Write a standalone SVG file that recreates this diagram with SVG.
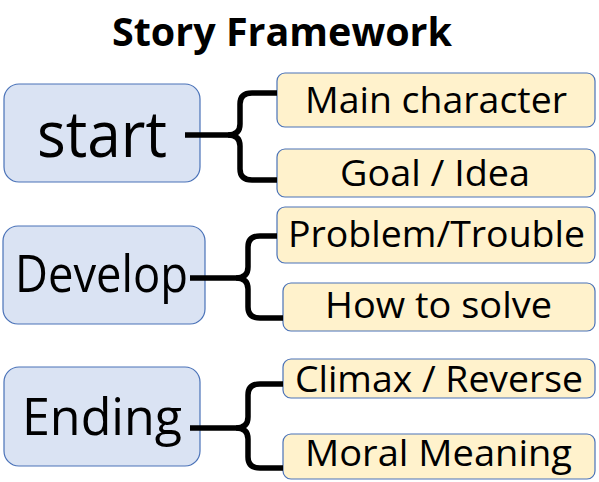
<svg xmlns="http://www.w3.org/2000/svg" width="599" height="482" viewBox="0 0 599 482">
<style>
.main{fill:#dae3f3;stroke:#4a72b8;stroke-width:1.2}
.sub{fill:#fff2cc;stroke:#4a72b8;stroke-width:1.2}
text{font-family:"Open Sans","Noto Sans","DejaVu Sans",sans-serif;fill:#000}
.big{font-size:64px}
.mid{font-size:52px}
.sm{font-size:37px}
.title{font-size:39px;font-weight:bold}
.br{fill:none;stroke:#000;stroke-width:5.5;stroke-linecap:butt;stroke-linejoin:round}
</style>
<rect width="599" height="482" fill="#fff"/>
<text class="title" x="112" y="46" textLength="340" lengthAdjust="spacingAndGlyphs">Story Framework</text>
<g id="start">
<rect class="main" x="4" y="84" width="196" height="98" rx="15"/>
<text class="big" x="37" y="157" textLength="130" lengthAdjust="spacingAndGlyphs">start</text>
</g>
<g id="develop">
<rect class="main" x="3" y="226" width="202" height="98" rx="15"/>
<text class="mid" x="15" y="292" textLength="173" lengthAdjust="spacingAndGlyphs">Develop</text>
</g>
<g id="ending">
<rect class="main" x="4" y="367" width="196" height="99" rx="15"/>
<text class="mid" x="22" y="435" textLength="160" lengthAdjust="spacingAndGlyphs">Ending</text>
</g>
<g id="main-character">
<rect class="sub" x="277" y="73" width="318" height="54" rx="8"/>
<text class="sm" x="305" y="113" textLength="262" lengthAdjust="spacingAndGlyphs">Main character</text>
</g>
<g id="goal-idea">
<rect class="sub" x="277" y="149" width="318" height="48" rx="8"/>
<text class="sm" x="340" y="186" textLength="190" lengthAdjust="spacingAndGlyphs">Goal / Idea</text>
</g>
<g id="problem-trouble">
<rect class="sub" x="277" y="207" width="318" height="56" rx="8"/>
<text class="sm" x="288" y="247" textLength="297" lengthAdjust="spacingAndGlyphs">Problem/Trouble</text>
</g>
<g id="how-to-solve">
<rect class="sub" x="283" y="283" width="312" height="48" rx="8"/>
<text class="sm" x="325" y="318" textLength="227" lengthAdjust="spacingAndGlyphs">How to solve</text>
</g>
<g id="climax-reverse">
<rect class="sub" x="283" y="359" width="312" height="39" rx="8"/>
<text class="sm" x="295" y="392" textLength="288" lengthAdjust="spacingAndGlyphs">Climax / Reverse</text>
</g>
<g id="moral-meaning">
<rect class="sub" x="283" y="434" width="312" height="45" rx="8"/>
<text class="sm" x="305" y="466" textLength="267" lengthAdjust="spacingAndGlyphs">Moral Meaning</text>
</g>
<g id="connectors">
<path class="br" d="M185,135 H228 Q240,135 240,124 V104 Q240,93 252,93 H277"/>
<path class="br" d="M228,135 Q240,135 240,146 V169 Q240,180 252,180 H277"/>
<path class="br" d="M190,278 H236 Q248,278 248,267 V247 Q248,236 260,236 H277"/>
<path class="br" d="M236,278 Q248,278 248,289 V307 Q248,318 260,318 H283"/>
<path class="br" d="M190,428 H236 Q248,428 248,417 V395 Q248,384 260,384 H283"/>
<path class="br" d="M236,428 Q248,428 248,439 V457 Q248,468 260,468 H283"/>
</g>
</svg>
